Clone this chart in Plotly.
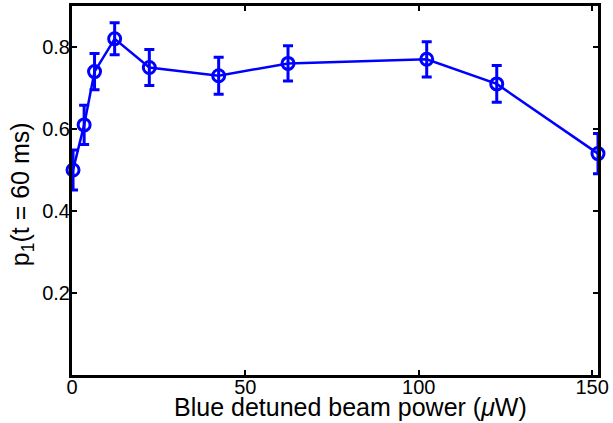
import plotly.graph_objects as go

# beam power (uW), survival probability and its error bar
power = [0.3, 3.5, 6.5, 12.3, 22.3, 42.3, 62.3, 102.3, 122.5, 151.7]
p1 = [0.50, 0.61, 0.74, 0.82, 0.75, 0.73, 0.76, 0.77, 0.71, 0.54]
p1_err = [0.049, 0.048, 0.044, 0.039, 0.044, 0.045, 0.043, 0.043, 0.045, 0.049]

x_ticks = [0, 50, 100, 150]
y_ticks = [0.2, 0.4, 0.6, 0.8]

blue = "#0000FF"
font = "Liberation Sans, Arial, sans-serif"

fig = go.Figure()
fig.add_trace(go.Scatter(
    x=power, y=p1,
    mode="lines+markers",
    line=dict(color=blue, width=2.5),
    marker=dict(symbol="circle-open", size=12, color=blue, line=dict(width=3, color=blue)),
    error_y=dict(type="data", array=p1_err, visible=True, color=blue, thickness=3, width=5),
    cliponaxis=False,
    showlegend=False,
))

axis_common = dict(
    showline=True, linecolor="black", linewidth=3, mirror="allticks",
    ticks="inside", ticklen=5, tickwidth=2, tickcolor="black",
    showgrid=False, zeroline=False, automargin=False,
    tickfont=dict(family=font, size=20, color="black"),
)

fig.update_xaxes(range=[0, 151.7], tickvals=x_ticks, ticktext=[str(v) for v in x_ticks],
                 ticklabelstandoff=-8, **axis_common)
fig.update_yaxes(range=[0, 0.9], tickvals=y_ticks, ticktext=[f"{v:.1f}" for v in y_ticks],
                 ticklabelstandoff=-5, **axis_common)

title_font = dict(family=font, size=25, color="black")
fig.add_annotation(text="Blue detuned beam power (<i>μ</i>W)", xref="paper", yref="paper",
                   x=0.53, y=-0.088, xanchor="center", yanchor="middle",
                   showarrow=False, font=title_font)
fig.add_annotation(text="p<sub>1</sub>(t = 60 ms)", xref="paper", yref="paper",
                   x=-0.095, y=0.49, xanchor="center", yanchor="middle", textangle=-90,
                   showarrow=False, font=title_font)

fig.update_layout(
    width=613, height=423,
    margin=dict(l=72, r=15, t=6, b=48, autoexpand=False),
    plot_bgcolor="white", paper_bgcolor="white",
)

fig.write_html("out.html", config={"displayModeBar": False},
               post_script="document.body.style.margin='0';")
